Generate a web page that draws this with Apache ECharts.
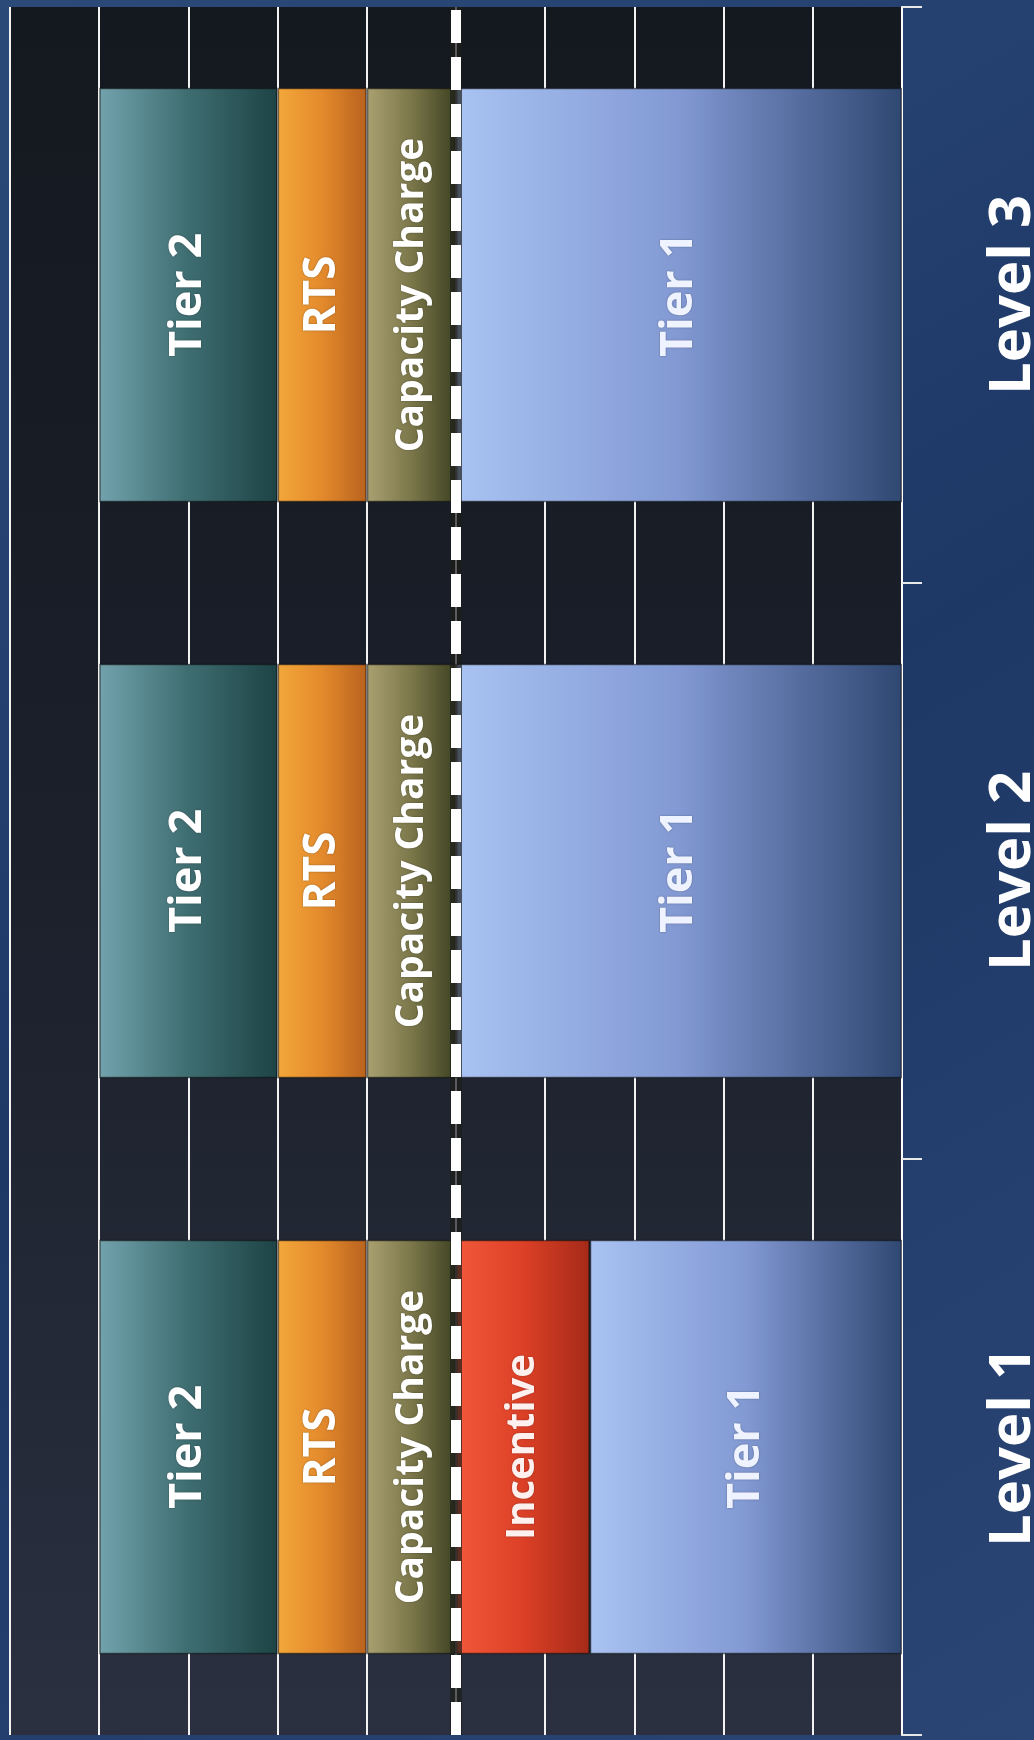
<!DOCTYPE html>
<html><head><meta charset="utf-8">
<script src="https://cdn.jsdelivr.net/npm/echarts@6/dist/echarts.min.js"></script>
<style>html,body{margin:0;padding:0;background:#1f3a66}#c{width:1034px;height:1740px}</style>
</head><body><div id="c"></div>
<script>
// ---- data ----
const categories = ['Level 1', 'Level 2', 'Level 3'];
const tier1 = [3.5, 5, 5];
const incentive = [1.5, null, null];
const capacityCharge = [1, 1, 1];
const rts = [1, 1, 1];
const tier2 = [2, 2, 2];
const valueMin = 0, valueMax = 10, valueInterval = 1;
const thresholdValue = 5;

// ---- styles ----
function grad(c0, c1, c2) {
  return { type: 'linear', x: 0, y: 0, x2: 1, y2: 0,
    colorStops: [{ offset: 0, color: c0 }, { offset: 0.5, color: c1 }, { offset: 1, color: c2 }] };
}
const FONT = '"Open Sans", "DejaVu Sans", sans-serif';
function lbl(size, color) {
  return { show: true, position: 'inside', rotate: 90, formatter: '{a}',
    color: color || '#ffffff', fontFamily: FONT, fontWeight: 'bold', fontSize: size,
    textShadowColor: 'rgba(0,0,0,0.35)', textShadowBlur: 2 };
}
const border = { borderColor: 'rgba(15,15,15,0.55)', borderWidth: 1.5 };

const chart = echarts.init(document.getElementById('c'), null, { renderer: 'canvas' });
chart.setOption({
  animation: false,
  backgroundColor: { type: 'linear', x: 0, y: 0, x2: 1, y2: 1,
    colorStops: [{ offset: 0, color: '#2b4a78' }, { offset: 0.5, color: '#1e3866' }, { offset: 1, color: '#2a4474' }] },
  grid: { left: 10, right: 132, top: 7, bottom: 5, show: true, borderWidth: 0,
    containLabel: false, outerBoundsMode: 'none',
    backgroundColor: { type: 'linear', x: 0, y: 0, x2: 0, y2: 1,
      colorStops: [{ offset: 0, color: '#14181f' }, { offset: 0.5, color: '#1b202b' }, { offset: 1, color: '#2a3040' }] } },
  xAxis: {
    type: 'value', inverse: true, min: valueMin, max: valueMax, interval: valueInterval,
    axisLine: { show: false }, axisTick: { show: false }, axisLabel: { show: false },
    splitLine: { show: true, lineStyle: { color: '#f2f2f2', width: 2 } }
  },
  yAxis: {
    type: 'category', data: categories, position: 'right',
    axisLine: { show: true, lineStyle: { color: '#ffffff', width: 2 } },
    axisTick: { show: true, length: 20, lineStyle: { color: '#e8e8e8', width: 2 } },
    axisLabel: { rotate: 90, margin: 82, color: '#ffffff', fontFamily: FONT, fontWeight: 'bold', fontSize: 58 },
    splitLine: { show: false }
  },
  series: [
    { name: 'Tier 1', type: 'bar', stack: 'total', barWidth: '72%', data: tier1,
      itemStyle: Object.assign({ color: grad('#a9c3f2', '#8299d3', '#2f4872') }, border),
      label: lbl(45, '#eef3ff'),
      markLine: { silent: true, symbol: 'none', z: 6, label: { show: false },
        lineStyle: { color: '#ffffff', width: 10, type: [33, 14], opacity: 1 },
        data: [{ xAxis: thresholdValue }] } },
    { name: 'Incentive', type: 'bar', stack: 'total', data: incentive,
      itemStyle: Object.assign({ color: grad('#f2583a', '#dc4026', '#a52a18') }, border),
      label: lbl(40, '#fff0f0') },
    { name: 'Capacity Charge', type: 'bar', stack: 'total', data: capacityCharge,
      itemStyle: Object.assign({ color: grad('#aaa172', '#7b774a', '#3e4222') }, border),
      label: lbl(39),
      markLine: { silent: true, symbol: 'none', z: 5, label: { show: false },
        lineStyle: { color: '#1c1e1a', width: 12, type: 'solid', opacity: 0.7 },
        data: [{ xAxis: thresholdValue }] } },
    { name: 'RTS', type: 'bar', stack: 'total', data: rts,
      itemStyle: Object.assign({ color: grad('#f3a73a', '#e38a2c', '#b8621e') }, border),
      label: lbl(44) },
    { name: 'Tier 2', type: 'bar', stack: 'total', data: tier2,
      itemStyle: Object.assign({ color: grad('#72a3ad', '#3e6d71', '#1d4345') }, border),
      label: lbl(45) }
  ]
});
</script>
</body></html>
